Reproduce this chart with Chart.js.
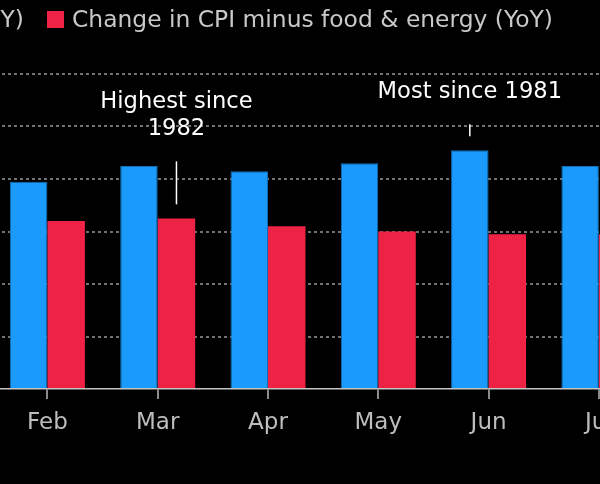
<!DOCTYPE html>
<html>
<head>
<meta charset="utf-8">
<script src="https://cdn.jsdelivr.net/npm/chart.js@4.4.1/dist/chart.umd.min.js"></script>
<style>
  html, body { margin: 0; padding: 0; background: #000; width: 600px; height: 484px; overflow: hidden; }
  #wrap { position: absolute; left: -118px; top: 0; width: 772px; height: 484px; }
</style>
</head>
<body>
<div id="wrap"><canvas id="c" width="772" height="484"></canvas></div>
<script>
const months = ['Jan', 'Feb', 'Mar', 'Apr', 'May', 'Jun', 'Jul'];
const cpiYoY = [7.5, 7.9, 8.5, 8.3, 8.6, 9.1, 8.5];
const coreYoY = [6.0, 6.4, 6.5, 6.2, 6.0, 5.9, 5.9];
const seriesNames = ['Change in CPI (YoY)', 'Change in CPI minus food & energy (YoY)'];
const yTicks = [0, 2, 4, 6, 8, 10, 12];
const notes = [
  { dataset: 1, index: 2, lines: ['Highest since', '1982'], lineLength: 43 },
  { dataset: 0, index: 5, lines: ['Most since 1981'], lineLength: 12 }
];

const BLUE = '#1a9bfc';
const RED = '#ee2244';
const FONT = '"DejaVu Sans", sans-serif';

const legendPlugin = {
  id: 'customLegend',
  afterDraw(chart) {
    const ctx = chart.ctx;
    ctx.save();
    ctx.font = '23.4px ' + FONT;
    ctx.textBaseline = 'middle';
    const box = 17, gapBoxText = 8, gapItems = 23;
    const redBoxX = 165, boxY = 11;
    const w0 = ctx.measureText(seriesNames[0]).width;
    let x = redBoxX - (box + gapBoxText + w0 + gapItems);
    const colors = [BLUE, RED];
    seriesNames.forEach((name, i) => {
      ctx.fillStyle = colors[i];
      ctx.fillRect(x, boxY, box, box);
      ctx.fillStyle = '#c8c8c8';
      ctx.fillText(name, x + box + gapBoxText, boxY + box / 2 + 1);
      x += box + gapBoxText + ctx.measureText(name).width + gapItems;
    });
    ctx.restore();
  }
};

const notePlugin = {
  id: 'notes',
  afterDatasetsDraw(chart) {
    const ctx = chart.ctx;
    ctx.save();
    notes.forEach(n => {
      const el = chart.getDatasetMeta(n.dataset).data[n.index];
      const x = el.x, top = el.y;
      const lineBottom = top - 14;
      const lineTop = lineBottom - n.lineLength;
      ctx.strokeStyle = '#ffffff';
      ctx.lineWidth = 1.5;
      ctx.beginPath();
      ctx.moveTo(x, lineTop);
      ctx.lineTo(x, lineBottom);
      ctx.stroke();
      ctx.fillStyle = '#ffffff';
      ctx.font = '22.6px ' + FONT;
      ctx.textAlign = 'center';
      ctx.textBaseline = 'alphabetic';
      const lh = 27;
      const last = lineTop - 26;
      n.lines.forEach((t, i) => {
        ctx.fillText(t, x, last - (n.lines.length - 1 - i) * lh);
      });
    });
    ctx.restore();
  }
};

new Chart(document.getElementById('c'), {
  type: 'bar',
  data: {
    labels: months,
    datasets: [
      { label: seriesNames[0], data: cpiYoY, backgroundColor: BLUE, borderColor: '#1270b8', borderWidth: 1 },
      { label: seriesNames[1], data: coreYoY, backgroundColor: RED, borderWidth: 0 }
    ]
  },
  options: {
    responsive: false,
    animation: false,
    devicePixelRatio: 1,
    layout: { padding: { top: 74, left: 0, right: 0, bottom: 0 } },
    datasets: { bar: { categoryPercentage: 0.68, barPercentage: 1.0 } },
    plugins: { legend: { display: false }, tooltip: { enabled: false } },
    scales: {
      x: {
        offset: true,
        grid: { display: true, offset: false, drawOnChartArea: false, drawTicks: true, tickLength: 10, color: '#8a8a8a', lineWidth: 2 },
        border: { display: true, color: '#c4c4c4', width: 1.5 },
        ticks: { color: '#bdbdbd', font: { family: FONT, size: 23 }, padding: 10 },
        afterFit(s) { s.height = 95; }
      },
      y: {
        min: yTicks[0],
        max: yTicks[yTicks.length - 1],
        afterBuildTicks(s) { s.ticks = yTicks.map(v => ({ value: v })); },
        ticks: { display: false },
        grid: {
          color: c => (c.tick && c.tick.value === 0) ? 'rgba(0,0,0,0)' : '#727272',
          lineWidth: 2,
          drawTicks: false
        },
        border: { display: false, dash: [3, 3] },
        afterFit(s) { s.width = 0; }
      }
    }
  },
  plugins: [legendPlugin, notePlugin]
});
</script>
</body>
</html>
